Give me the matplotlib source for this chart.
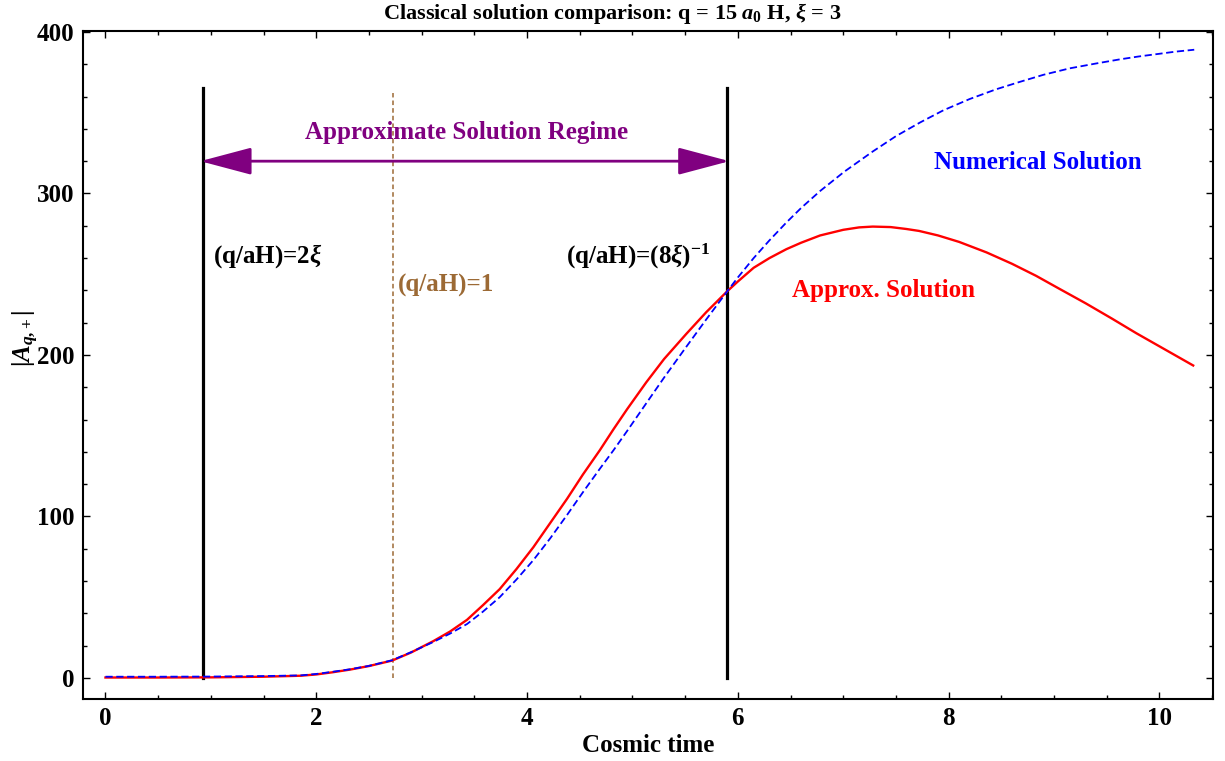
import matplotlib
matplotlib.use("Agg")
import matplotlib.pyplot as plt
from matplotlib.ticker import MultipleLocator

plt.rcParams['font.family'] = ['Liberation Serif', 'DejaVu Serif']
plt.rcParams['font.weight'] = 'bold'
plt.rcParams['mathtext.fontset'] = 'custom'
plt.rcParams['mathtext.rm'] = 'Liberation Serif:bold'
plt.rcParams['mathtext.it'] = 'Liberation Serif:italic:bold'
plt.rcParams['mathtext.bf'] = 'Liberation Serif:bold'

# ---- data ----
num_t = [0, 0.5, 1.0, 1.5, 1.85, 2.0, 2.15, 2.32, 2.5, 2.72, 2.9, 3.11, 3.27, 3.43,
         3.58, 3.74, 3.9, 4.06, 4.22, 4.38, 4.53, 4.69, 4.82, 4.95, 5.13, 5.3, 5.51,
         5.7, 5.9, 6.0, 6.15, 6.3, 6.46, 6.6, 6.78, 7.01, 7.28, 7.5, 7.73, 7.95, 8.2,
         8.45, 8.67, 8.9, 9.15, 9.4, 9.62, 9.8, 10.0, 10.15, 10.33]
num_y = [0.8, 0.8, 0.9, 1.2, 1.6, 2.5, 3.8, 5.4, 7.5, 11.0, 16.0, 22.3, 27.5, 33.4,
         41.0, 50.0, 61.0, 73.0, 86.5, 101.0, 115.0, 129.5, 141.0, 153.0, 170.0, 186.0, 205.0,
         222.0, 239.5, 248.0, 260.0, 271.0, 282.0, 291.0, 301.5, 313.5, 326.0, 335.5, 344.0, 351.5, 358.5,
         364.5, 369.0, 373.5, 377.5, 380.5, 383.0, 384.8, 386.5, 387.8, 389.0]

app_t = [0, 0.5, 1.0, 1.5, 1.85, 2.0, 2.15, 2.32, 2.5, 2.72, 2.9, 3.11, 3.27, 3.43,
         3.58, 3.74, 3.9, 4.06, 4.22, 4.38, 4.53, 4.69, 4.82, 4.95, 5.13, 5.3, 5.51,
         5.7, 5.9, 6.0, 6.15, 6.3, 6.46, 6.6, 6.78, 7.0, 7.15, 7.28, 7.45, 7.6, 7.72,
         7.9, 8.1, 8.36, 8.6, 8.83, 9.05, 9.3, 9.55, 9.78, 10.05, 10.32]
app_y = [0.3, 0.3, 0.4, 0.8, 1.4, 2.2, 3.5, 5.2, 7.4, 10.8, 15.8, 22.8, 28.8, 36.0,
         45.0, 55.0, 67.5, 81.0, 96.0, 111.0, 126.0, 141.0, 154.0, 166.5, 183.0, 197.5, 213.0,
         226.5, 239.5, 245.5, 254.0, 260.0, 265.5, 269.5, 274.0, 277.5, 279.0, 279.5, 279.2, 278.0, 276.8,
         274.0, 270.0, 263.5, 256.5, 249.0, 241.0, 232.0, 222.5, 213.5, 203.5, 193.5]

t_lower = 0.93      # (q/aH) = 2 xi
t_horizon = 2.73    # (q/aH) = 1
t_upper = 5.90      # (q/aH) = (8 xi)^-1
line_top = 365
arrow_y = 320

x_ticks = [0, 2, 4, 6, 8, 10]
y_ticks = [0, 100, 200, 300, 400]

brown = '#9c6a35'
purple = '#800080'

fig = plt.figure(figsize=(12.25, 7.61), dpi=100)
ax = fig.add_axes([83/1225, 1-699/761, (1213-83)/1225, (699-31)/761])

ax.plot(app_t, app_y, color='red', lw=1.7, zorder=3)
ax.plot(num_t, num_y, color='blue', lw=1.3, dashes=(4, 2), zorder=4)

ax.plot([t_lower, t_lower], [0, line_top], color='black', lw=2.3, zorder=2)
ax.plot([t_upper, t_upper], [0, line_top], color='black', lw=2.3, zorder=2)
ax.plot([t_horizon, t_horizon], [0, line_top - 3], color=brown, lw=1.1,
        dashes=(3, 2), zorder=2)

ax.annotate('', xy=(t_upper + 0.02, arrow_y), xytext=(t_lower - 0.03, arrow_y),
            arrowprops=dict(arrowstyle='<|-|>,head_length=32,head_width=8.5',
                            mutation_scale=1, color=purple, lw=2.0,
                            shrinkA=0, shrinkB=0), zorder=5)

fs = 18
ax.text(3.43, 337.5, 'Approximate Solution Regime', color=purple, fontsize=fs,
        fontweight='bold', ha='center', va='center')
ax.text(8.85, 319, 'Numerical Solution', color='blue', fontsize=fs,
        fontweight='bold', ha='center', va='center')
ax.text(7.38, 240, 'Approx. Solution', color='red', fontsize=fs,
        fontweight='bold', ha='center', va='center')
ax.text(1.02, 261, r'(q/aH)=2$\xi$', color='black', fontsize=fs,
        fontweight='bold', ha='left', va='center')
ax.text(2.775, 243, '(q/aH)=1', color=brown, fontsize=fs,
        fontweight='bold', ha='left', va='center')
ax.text(5.74, 261, r'(q/aH)=(8$\xi$)$^{-1}$', color='black', fontsize=fs,
        fontweight='bold', ha='right', va='center')

ax.set_xlim(-0.213, 10.508)
ax.set_ylim(-13.0, 400.6)
ax.set_xticks(x_ticks)
ax.set_yticks(y_ticks)
ax.xaxis.set_minor_locator(MultipleLocator(0.5))
ax.yaxis.set_minor_locator(MultipleLocator(20))
ax.tick_params(which='both', direction='in', top=True, right=True, labelsize=fs,
               width=1.0, color='black')
ax.tick_params(which='major', length=5, pad=6)
ax.tick_params(which='minor', length=2.8)
for lab in ax.get_xticklabels() + ax.get_yticklabels():
    lab.set_fontweight('bold')
for sp in ax.spines.values():
    sp.set_linewidth(1.5)

ax.set_xlabel('Cosmic time', fontsize=fs, fontweight='bold', labelpad=3)
ax.set_ylabel(r'|$A_{q{,}+}$|', fontsize=fs, fontweight='bold')
ax.yaxis.set_label_coords(-0.037, 0.54)

fig.text(612/1225, 1-13/761, r'Classical solution comparison: q = 15 $a_0$ H, $\xi$ = 3',
         fontsize=16, fontweight='bold', ha='center', va='center')

fig.savefig('out.png', dpi=100)
